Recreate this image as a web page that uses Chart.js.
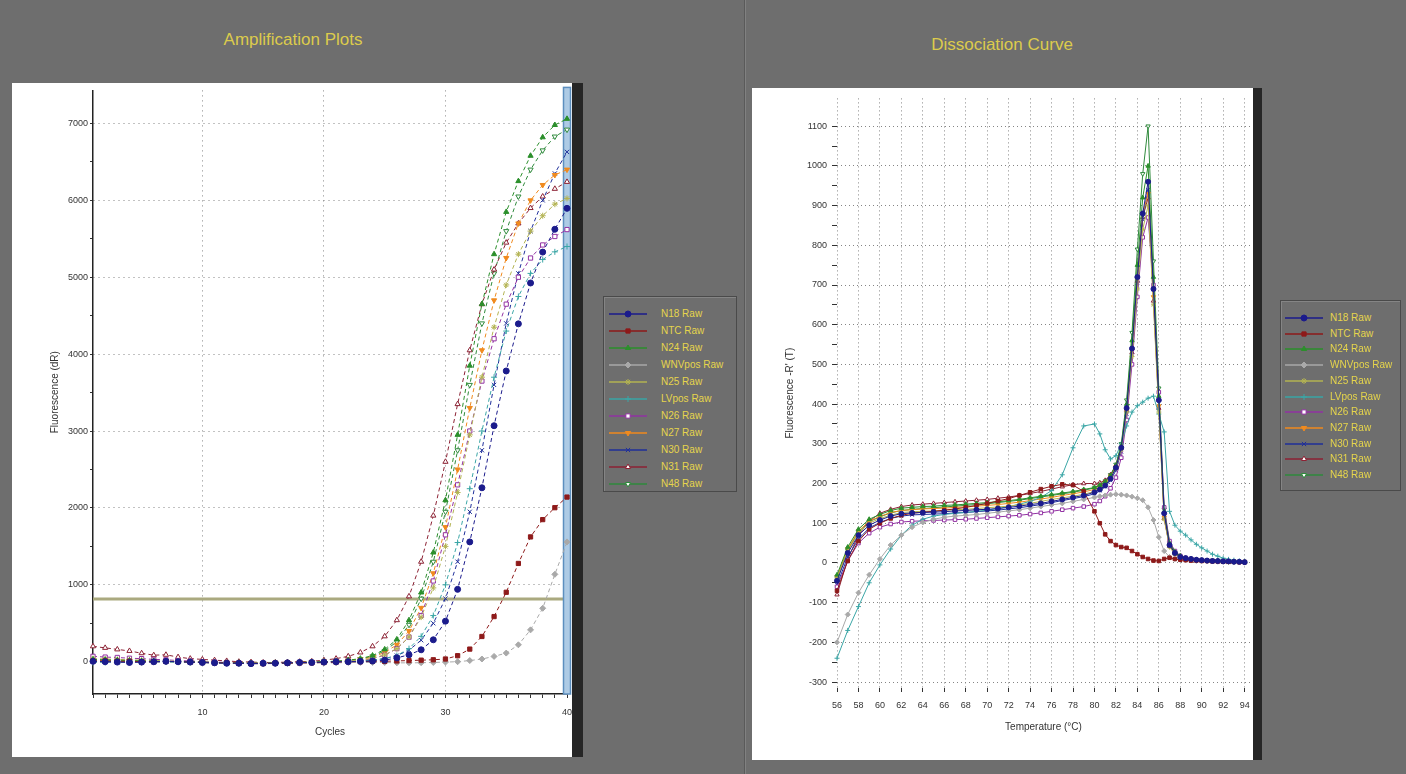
<!DOCTYPE html>
<html><head><meta charset="utf-8">
<script src="https://cdn.jsdelivr.net/npm/chart.js@4.4.0/dist/chart.umd.min.js"></script>
<style>
html,body{margin:0;padding:0;}
body{width:1406px;height:774px;background:#6e6e6e;position:relative;overflow:hidden;font-family:"Liberation Sans",Arial,sans-serif;}
.title{position:absolute;color:#dccb4c;font-size:17px;transform:translate(-50%,-50%);white-space:nowrap;}
.panel{position:absolute;background:#fff;}
.shadow{position:absolute;background:#262626;}
.cv{position:absolute;}
.legend{position:absolute;border:1px solid #4a4a4a;box-shadow:inset 1px 1px 0 #858585;}
.li{position:absolute;left:0;height:16px;width:100%;}
.li canvas{position:absolute;top:0;}
.li span{position:absolute;top:0;color:#e6d54c;font-size:10px;line-height:16px;white-space:nowrap;}
</style></head><body>
<div style="position:absolute;left:744px;top:0;width:1px;height:774px;background:#5a5a5a"></div>
<div style="position:absolute;left:745px;top:0;width:1px;height:774px;background:#818181"></div>
<div class="title" style="left:293px;top:40px">Amplification Plots</div>
<div class="title" style="left:1002px;top:45px">Dissociation Curve</div>
<div class="panel" style="left:12px;top:83px;width:560px;height:674px"></div>
<div class="shadow" style="left:572px;top:83px;width:11px;height:674px"></div>
<canvas id="amp" class="cv" width="570" height="674" style="left:12px;top:83px"></canvas>
<div class="panel" style="left:752px;top:88px;width:501px;height:672px"></div>
<div class="shadow" style="left:1253px;top:88px;width:9px;height:672px"></div>
<canvas id="diss" class="cv" width="506" height="672" style="left:752px;top:88px"></canvas>
<div id="legAmp" class="legend" style="left:603px;top:296px;width:132px;height:194px"></div>
<div id="legDiss" class="legend" style="left:1280px;top:300px;width:119px;height:189px"></div>
<script>
// ---------- Amplification data (cycles 1..40) ----------
const cycles = [1,2,3,4,5,6,7,8,9,10,11,12,13,14,15,16,17,18,19,20,21,22,23,24,25,26,27,28,29,30,31,32,33,34,35,36,37,38,39,40];
const ampN18 = [5,0,-5,-10,-5,0,5,0,-5,-10,-15,-20,-20,-25,-20,-20,-15,-10,-10,-5,0,0,5,10,20,50,90,155,285,527,941,1558,2262,3069,3781,4394,4925,5327,5624,5896];
const ampNTC = [10,10,5,5,0,0,5,0,-5,-10,-15,-15,-20,-25,-25,-20,-20,-15,-15,-10,-5,0,0,5,5,10,15,20,25,35,78,164,328,587,903,1278,1623,1848,2003,2141];
const ampN24 = [30,25,20,15,10,5,5,0,0,-5,-10,-15,-15,-20,-20,-15,-15,-10,-5,0,5,20,40,80,160,290,540,900,1420,2100,2950,3850,4650,5300,5850,6250,6580,6820,6980,7060];
const ampWNV = [0,-5,-5,-10,-10,-5,0,0,-5,-10,-15,-20,-20,-25,-25,-25,-20,-20,-15,-15,-15,-10,-10,-10,-10,-15,-15,-13,-10,-5,0,15,35,69,112,220,414,695,1136,1558];
const ampN25 = [40,35,30,25,20,15,10,5,0,-5,-10,-15,-20,-20,-20,-20,-15,-10,-5,0,5,10,20,45,90,170,320,580,960,1500,2200,2950,3700,4350,4900,5300,5600,5800,5950,6025];
const ampLV  = [-10,-10,-5,-5,0,0,0,-5,-10,-10,-15,-20,-20,-25,-25,-20,-20,-15,-10,-5,0,5,10,20,40,80,170,330,600,1000,1550,2250,3000,3700,4300,4750,5050,5230,5330,5400];
const ampN26 = [70,60,55,45,40,30,25,15,10,0,-5,-10,-15,-20,-20,-20,-15,-10,-10,-5,0,5,10,40,85,170,320,600,1050,1650,2300,3000,3650,4200,4650,5000,5250,5420,5530,5620];
const ampN27 = [20,20,15,15,10,5,5,0,-5,-5,-10,-15,-15,-20,-20,-15,-15,-10,-5,0,5,15,30,60,120,220,400,700,1150,1750,2500,3300,4050,4700,5250,5700,6000,6200,6330,6400];
const ampN30 = [0,0,-5,-5,-10,-5,0,0,-5,-10,-15,-15,-20,-20,-25,-20,-20,-15,-10,-10,-5,0,5,20,40,80,150,280,500,820,1300,1950,2750,3600,4400,5050,5600,6000,6350,6630];
const ampN31 = [200,180,160,140,110,85,90,60,40,30,20,10,0,-5,-10,-10,-5,0,5,20,40,70,120,200,330,540,850,1300,1900,2600,3350,4050,4650,5100,5450,5700,5900,6050,6150,6240];
const ampN48 = [15,10,10,5,5,0,0,-5,-5,-10,-15,-15,-20,-20,-20,-15,-15,-10,-5,0,5,15,35,70,140,260,480,820,1300,1950,2750,3600,4400,5050,5600,6050,6400,6650,6830,6920];
const ampXLabels = [10,20,30,40];
const ampYLabels = [0,1000,2000,3000,4000,5000,6000,7000];
const thresholdValue = 816;
const markerCycle = 40;

// ---------- Dissociation data ----------
const temps = [56,57,58,59,60,61,62,63,64,65,66,67,68,69,70,71,72,73,74,75,76,77,78,79,80,80.5,81,81.5,82,82.5,83,83.5,84,84.5,85,85.5,86,86.5,87,87.5,88,88.5,89,89.5,90,90.5,91,91.5,92,92.5,93,93.5,94];
const dissN18 = [-45,25,70,95,108,118,124,126,127,128,129,131,132,134,135,137,140,143,147,150,155,160,165,170,178,185,195,212,240,290,390,540,720,880,960,690,410,125,45,25,15,12,10,8,7,6,5,5,4,4,3,3,2];
const dissNTC = [-70,5,55,85,100,112,120,125,128,130,133,136,140,145,150,156,162,170,178,186,193,198,196,180,130,100,72,55,45,40,38,30,22,15,10,6,5,10,13,10,8,7,6,6,5,5,4,4,3,3,3,2,2];
const dissN24 = [-30,40,85,110,122,132,138,140,142,143,145,146,148,150,152,154,157,160,164,168,172,176,180,185,190,196,205,220,245,295,400,560,750,920,1000,720,420,130,50,28,18,12,10,8,7,6,5,5,4,3,3,2,2];
const dissWNV = [-200,-130,-75,-30,10,45,70,90,102,110,115,118,120,122,125,128,131,134,138,142,146,150,155,160,165,168,170,172,173,172,170,167,163,158,140,108,65,30,15,10,8,7,6,5,5,4,4,3,3,3,2,2,2];
const dissN25 = [-40,30,75,100,112,120,127,129,130,131,133,134,135,137,139,141,143,146,150,155,160,164,168,173,180,188,198,215,238,285,380,520,690,840,900,650,380,110,40,22,14,10,9,7,6,5,5,4,4,3,3,2,2];
const dissLV  = [-240,-170,-110,-50,-5,35,70,95,110,118,122,125,127,130,133,137,142,148,155,165,182,222,290,345,350,325,285,262,270,300,345,380,396,405,415,420,375,330,130,95,80,70,58,47,38,30,22,17,12,9,7,5,4];
const dissN26 = [-60,5,50,75,90,98,103,105,106,107,108,109,110,112,114,116,118,120,123,126,130,134,138,142,148,156,168,188,215,265,360,500,670,820,870,700,430,140,55,30,18,13,10,8,7,6,5,4,4,3,3,2,2];
const dissN27 = [-35,35,80,105,117,127,132,134,136,137,138,140,141,143,145,147,150,153,157,161,165,170,174,179,185,192,202,218,242,290,385,535,715,880,930,670,395,115,42,24,15,11,9,7,6,5,5,4,4,3,3,2,2];
const dissN30 = [-55,15,60,88,102,112,118,121,122,123,124,126,127,129,131,133,136,139,143,147,152,157,162,167,174,182,192,208,233,280,375,525,705,865,940,690,410,120,44,24,15,11,9,7,6,5,5,4,4,3,3,2,2];
const dissN31 = [-80,10,70,105,125,135,142,146,148,150,152,154,156,158,160,163,166,170,175,180,186,192,197,200,200,202,208,222,245,290,385,530,710,870,920,660,390,112,42,24,15,11,9,7,6,5,5,4,4,3,3,2,2];
const dissN48 = [-38,32,78,104,116,126,132,135,137,139,141,143,145,147,149,152,155,158,162,166,170,174,178,183,189,196,206,222,248,300,410,580,790,980,1100,760,440,135,50,27,16,12,10,8,7,6,5,5,4,3,3,2,2];
const dissXLabels = [56,58,60,62,64,66,68,70,72,74,76,78,80,82,84,86,88,90,92,94];
const dissYLabels = [-300,-200,-100,0,100,200,300,400,500,600,700,800,900,1000,1100];

// ---------- Series ----------
const seriesNames = ['N18','NTC','N24','WNVpos','N25','LVpos','N26','N27','N30','N31','N48'];
const labelSuffix = ' Raw';
const seriesColors = ['#1b1b8c','#8e1a1a','#2b8f2b','#a9a9a9','#b3b352','#3aa6a6','#9232a3','#f08a1e','#1f2f9a','#8c2234','#2f8a3c'];
const seriesPointStyles = ['circle','rect','triangle','rectRot','star','cross','rect','triangle','crossRot','triangle','triangle'];
const seriesPointRotation = [0,0,0,0,0,0,0,180,0,0,180];
const seriesPointFilled = [true,true,true,true,true,true,false,true,true,false,false];
const ampValues = [ampN18,ampNTC,ampN24,ampWNV,ampN25,ampLV,ampN26,ampN27,ampN30,ampN31,ampN48];
const dissValues = [dissN18,dissNTC,dissN24,dissWNV,dissN25,dissLV,dissN26,dissN27,dissN30,dissN31,dissN48];

Chart.defaults.font.family = "'Liberation Sans', Arial, sans-serif";
Chart.defaults.color = '#222';
Chart.defaults.animation = false;

function mkDatasets(values, xs, dashed, radius) {
  return seriesNames.map((name, i) => ({
    label: name + labelSuffix,
    data: values[i].map((v, k) => ({x: xs[k], y: v})),
    borderColor: seriesColors[i],
    backgroundColor: seriesColors[i],
    borderWidth: 1,
    borderDash: dashed ? [4, 3] : [],
    pointStyle: seriesPointStyles[i],
    pointRotation: seriesPointRotation[i],
    pointRadius: radius,
    pointBorderWidth: 1,
    pointBackgroundColor: seriesPointFilled[i] ? seriesColors[i] : '#ffffff',
    pointBorderColor: seriesColors[i],
    tension: 0,
    clip: false
  }));
}

const dotted = '#858585';

const ampExtras = {
  id: 'ampExtras',
  beforeDatasetsDraw(chart) {
    const {ctx, chartArea: a, scales: {x, y}} = chart;
    const bx = x.getPixelForValue(markerCycle);
    const ty = y.getPixelForValue(thresholdValue);
    ctx.save();
    ctx.strokeStyle = '#aaa97f'; ctx.lineWidth = 3;
    ctx.beginPath(); ctx.moveTo(a.left, ty); ctx.lineTo(bx, ty); ctx.stroke();
    ctx.fillStyle = '#aecbe5'; ctx.fillRect(bx - 3.5, a.top - 3, 7, a.bottom - a.top + 3);
    ctx.strokeStyle = '#5d8fbf'; ctx.lineWidth = 1.5; ctx.strokeRect(bx - 3.5, a.top - 3, 7, a.bottom - a.top + 3);
    ctx.restore();
  }
};

const ampChart = new Chart(document.getElementById('amp'), {
  type: 'line',
  data: {datasets: mkDatasets(ampValues, cycles, true, 3)},
  plugins: [ampExtras],
  options: {
    responsive: false,
    animation: false,
    layout: {padding: {left: 33, right: 15, top: 6, bottom: 15}},
    plugins: {legend: {display: false}, tooltip: {enabled: false}},
    scales: {
      x: {
        type: 'linear', min: cycles[0], max: cycles[cycles.length - 1],
        afterBuildTicks: s => { s.ticks = cycles.map(v => ({value: v})); },
        afterFit: s => { s.height = 48; },
        ticks: {autoSkip: false, maxRotation: 0, padding: 9, font: {size: 9}, color: '#333',
          callback: v => ampXLabels.includes(v) ? String(v) : ''},
        grid: {color: c => (c.tick && ampXLabels.includes(c.tick.value) && c.tick.value < markerCycle) ? dotted : 'transparent',
          tickColor: '#333', tickLength: 4, lineWidth: 1},
        border: {display: true, color: '#222', width: 1.5, dash: [1, 4]},
        title: {display: true, text: 'Cycles', font: {size: 10}, color: '#333'}
      },
      y: {
        type: 'linear', min: -420, max: 7430,
        afterBuildTicks: s => { const t = []; ampYLabels.forEach(v => { t.push({value: v}); if (v < 7000) t.push({value: v + 500}); }); s.ticks = t; },
        afterFit: s => { s.width = 48; },
        ticks: {autoSkip: false, padding: 2, font: {size: 9}, color: '#333',
          callback: v => ampYLabels.includes(v) ? String(v) : ''},
        grid: {color: c => (c.tick && c.tick.value > 0 && ampYLabels.includes(c.tick.value)) ? dotted : 'transparent',
          tickColor: '#333', tickLength: 3, lineWidth: 1},
        border: {display: true, color: '#222', width: 1.5, dash: [1, 4]},
        title: {display: true, text: 'Fluorescence (dR)', font: {size: 10}, color: '#333'}
      }
    }
  }
});

const dissChart = new Chart(document.getElementById('diss'), {
  type: 'line',
  data: {datasets: mkDatasets(dissValues, temps, false, 2.5)},
  options: {
    responsive: false,
    animation: false,
    layout: {padding: {left: 28, right: 8, top: 5, bottom: 23}},
    plugins: {legend: {display: false}, tooltip: {enabled: false}},
    scales: {
      x: {
        type: 'linear', min: 56, max: 94.5,
        afterBuildTicks: s => { s.ticks = dissXLabels.map(v => ({value: v})); },
        afterFit: s => { s.height = 49; },
        ticks: {autoSkip: false, maxRotation: 0, padding: 8, font: {size: 9}, color: '#333',
          callback: v => String(v)},
        grid: {color: dotted, tickColor: '#333', tickLength: 4, lineWidth: 1},
        border: {display: false, dash: [1, 3]},
        title: {display: true, text: 'Temperature (°C)', font: {size: 10}, color: '#333'}
      },
      y: {
        type: 'linear', min: -315, max: 1170,
        afterBuildTicks: s => { const t = []; dissYLabels.forEach(v => { t.push({value: v}); if (v < 1100) t.push({value: v + 50}); }); s.ticks = t; },
        afterFit: s => { s.width = 57; },
        ticks: {autoSkip: false, padding: 5, font: {size: 9}, color: '#333',
          callback: v => dissYLabels.includes(v) ? String(v) : ''},
        grid: {color: c => (c.tick && dissYLabels.includes(c.tick.value)) ? dotted : 'transparent',
          tickColor: '#333', tickLength: 5, lineWidth: 1},
        border: {display: false, dash: [1, 3]},
        title: {display: true, text: "Fluorescence -R' (T)", font: {size: 10}, color: '#333'}
      }
    }
  }
});

function buildLegend(el, chart, cfg) {
  chart.data.datasets.forEach((ds, i) => {
    const row = document.createElement('div');
    row.className = 'li';
    row.style.top = (cfg.top + i * cfg.step - 8) + 'px';
    const c = document.createElement('canvas');
    c.width = cfg.sw; c.height = 16; c.style.left = cfg.sx + 'px';
    const g = c.getContext('2d');
    g.strokeStyle = ds.borderColor; g.lineWidth = 1.5;
    g.beginPath(); g.moveTo(0, 8); g.lineTo(cfg.sw, 8); g.stroke();
    g.fillStyle = ds.pointBackgroundColor; g.strokeStyle = ds.pointBorderColor; g.lineWidth = 1;
    if (Chart.helpers && Chart.helpers.drawPoint) {
      Chart.helpers.drawPoint(g, {pointStyle: ds.pointStyle, rotation: ds.pointRotation, radius: cfg.r, borderWidth: 1}, cfg.sw / 2, 8);
    } else {
      g.beginPath(); g.arc(cfg.sw / 2, 8, cfg.r, 0, Math.PI * 2); g.fill(); g.stroke();
    }
    const s = document.createElement('span');
    s.textContent = ds.label; s.style.left = cfg.tx + 'px';
    row.appendChild(c); row.appendChild(s);
    el.appendChild(row);
  });
}
buildLegend(document.getElementById('legAmp'), ampChart, {top: 17, step: 17, sx: 5, sw: 38, r: 3, tx: 57});
buildLegend(document.getElementById('legDiss'), dissChart, {top: 17, step: 15.7, sx: 4, sw: 38, r: 3, tx: 49});
</script>
</body></html>
